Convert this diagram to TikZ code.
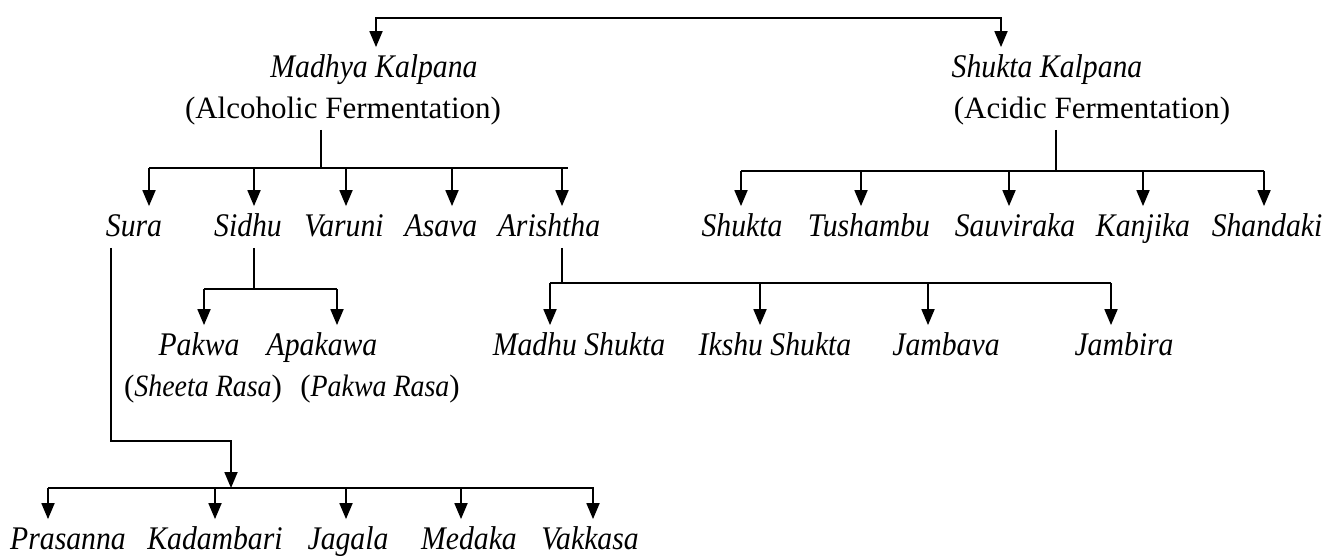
\documentclass[tikz,border=0pt]{standalone}
\usepackage{fontspec}
\setmainfont{Liberation Serif}[ItalicFeatures={FakeStretch=0.9}]
\usepackage{tikz}
\usetikzlibrary{arrows.meta}
\usetikzlibrary{calc}

\begin{document}
\begin{tikzpicture}[x=1pt,y=-1pt,line width=1.8pt,
	arr/.style={-{Triangle[width=13pt,length=16pt]}},
	arrs/.style={{Triangle[width=13pt,length=16pt]}-{Triangle[width=13pt,length=16pt]}},
	txt/.style={inner xsep=0pt,inner ysep=5pt,text height=24pt,text depth=6pt,anchor=base,font=\fontsize{31}{37}\selectfont},
	itm/.style={txt,font=\fontsize{33}{39}\selectfont\itshape}]
	\useasboundingbox (0,0) rectangle (1329,557);
	
	\node[itm] (madhya) at (374,77) {Madhya Kalpana};
	\node[txt] (alcoholic) at (343,118) {(Alcoholic Fermentation)};
	\node[itm] (shuktak) at (1047,77) {Shukta Kalpana};
	\node[txt] (acidic) at (1092,118) {(Acidic Fermentation)};
	
	\node[itm] (sura) at (134,236) {Sura};
	\node[itm] (sidhu) at (248,236) {Sidhu};
	\node[itm] (varuni) at (344,236) {Varuni};
	\node[itm] (asava) at (441,236) {Asava};
	\node[itm] (arishtha) at (549,236) {Arishtha};
	\node[itm] (shukta) at (742,236) {Shukta};
	\node[itm] (tushambu) at (869,236) {Tushambu};
	\node[itm] (sauviraka) at (1015,236) {Sauviraka};
	\node[itm] (kanjika) at (1143,236) {Kanjika};
	\node[itm] (shandaki) at (1267,236) {Shandaki};
	
	\node[itm] (pakwa) at (199,355) {Pakwa};
	\node[itm] (apakawa) at (322,355) {Apakawa};
	\node[txt] (sheeta) at (203,396) {(\textit{Sheeta Rasa})};
	\node[txt] (pakwarasa) at (380,396) {(\textit{Pakwa Rasa})};
	\node[itm] (madhu) at (579,355) {Madhu Shukta};
	\node[itm] (ikshu) at (775,355) {Ikshu Shukta};
	\node[itm] (jambava) at (946,355) {Jambava};
	\node[itm] (jambira) at (1124,355) {Jambira};
	
	\node[itm] (prasanna) at (68,549) {Prasanna};
	\node[itm] (kadambari) at (215,549) {Kadambari};
	\node[itm] (jagala) at (348,549) {Jagala};
	\node[itm] (medaka) at (469,549) {Medaka};
	\node[itm] (vakkasa) at (590,549) {Vakkasa};
	
	\draw[arrs] (376,0 |- madhya.north) -- (376,18) -- (1001,18) -- (1001,0 |- shuktak.north);
	
	\draw (321,0 |- alcoholic.south) -- (321,168);
	\draw (149,168) -- (568,168);
	\foreach \x/\n in {149/sura,254/sidhu,346/varuni,452/asava,562/arishtha}
		\draw[arr] (\x,168) -- (\x,0 |- \n.north);
	
	\draw (1056,0 |- acidic.south) -- (1056,171);
	\draw (741,171) -- (1264,171);
	\foreach \x/\n in {741/shukta,861/tushambu,1009/sauviraka,1143/kanjika,1264/shandaki}
		\draw[arr] (\x,171) -- (\x,0 |- \n.north);
	
	\draw (254,0 |- sidhu.south) -- (254,289);
	\draw (204,289) -- (337,289);
	\foreach \x/\n in {204/pakwa,337/apakawa}
		\draw[arr] (\x,289) -- (\x,0 |- \n.north);
	
	\draw (562,0 |- arishtha.south) -- (562,283);
	\draw (550,283) -- (1111,283);
	\foreach \x/\n in {550/madhu,760/ikshu,928/jambava,1111/jambira}
		\draw[arr] (\x,283) -- (\x,0 |- \n.north);
	
	\draw[arr] (111,0 |- sura.south) -- (111,441) -- (231,441) -- (231,488);
	\draw (48,488) -- (594,488);
	\foreach \x/\n in {48/prasanna,215/kadambari,346/jagala,461/medaka,593/vakkasa}
		\draw[arr] (\x,488) -- (\x,0 |- \n.north);
\end{tikzpicture}
\end{document}
